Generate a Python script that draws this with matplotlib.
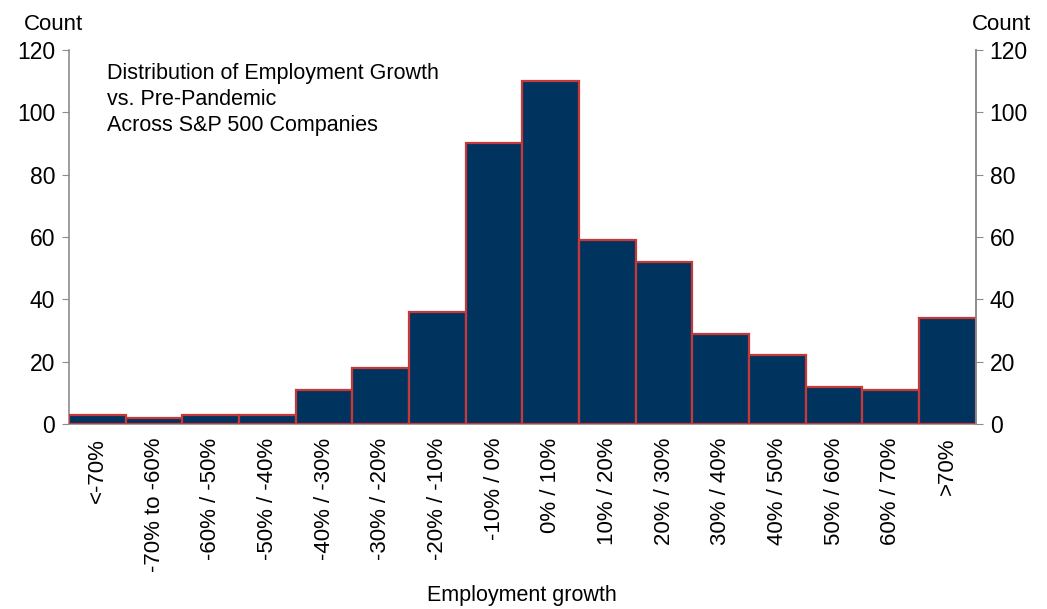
import matplotlib.pyplot as plt
import numpy as np

plt.rcParams['font.family'] = ['Liberation Sans', 'DejaVu Sans']

# ---- data ----
categories = ["<-70%", "-70% to -60%", "-60% / -50%", "-50% / -40%", "-40% / -30%",
              "-30% / -20%", "-20% / -10%", "-10% / 0%", "0% / 10%", "10% / 20%",
              "20% / 30%", "30% / 40%", "40% / 50%", "50% / 60%", "60% / 70%", ">70%"]
counts = [3, 2, 3, 3, 11, 18, 36, 90, 110, 59, 52, 29, 22, 12, 11, 34]
yticks = [0, 20, 40, 60, 80, 100, 120]

NAVY = "#00345E"
RED = "#C8383A"
GREY = "#8C8C8C"
FS_Y = 16.5
FS_X = 16
FS = 15.5

fig = plt.figure(figsize=(10.47, 6.09), dpi=100)
ax = fig.add_axes([0.0659, 0.3038, 0.8661, 0.6142])

x = np.arange(len(categories))
ax.bar(x, counts, width=1.0, color=NAVY, edgecolor=RED, linewidth=1.6, zorder=3)

ax.set_xlim(-0.5, len(categories) - 0.5)
ax.set_ylim(0, 120)
ax.set_yticks(yticks)
ax.set_xticks(x)
ax.set_xticklabels(categories, rotation=90, fontsize=FS_X, va='top')
ax.tick_params(axis='x', length=0, pad=10)
ax.tick_params(axis='y', direction='out', length=5, color=GREY, labelsize=FS_Y, pad=5)

ax.spines['top'].set_visible(False)
for s in ['left', 'right', 'bottom']:
    ax.spines[s].set_color(GREY)
    ax.spines[s].set_linewidth(1.2)

# right-hand axis mirrors the left
ax2 = ax.twinx()
ax2.set_ylim(0, 120)
ax2.set_yticks(yticks)
ax2.tick_params(axis='y', direction='out', length=5, color=GREY, labelsize=FS_Y, pad=5)
for s in ['top', 'left', 'bottom']:
    ax2.spines[s].set_visible(False)
ax2.spines['right'].set_color(GREY)
ax2.spines['right'].set_linewidth(1.2)

fig.text(24 / 1047, 1 - 24 / 609, "Count", fontsize=FS_X, va='center', ha='left')
fig.text(1031 / 1047, 1 - 24 / 609, "Count", fontsize=FS_X, va='center', ha='right')

ax.text(0.042, 0.965, "Distribution of Employment Growth\nvs. Pre-Pandemic\nAcross S&P 500 Companies",
        transform=ax.transAxes, fontsize=FS, va='top', ha='left', linespacing=1.32)

fig.text(522 / 1047, 1 - 596 / 609, "Employment growth", fontsize=FS, ha='center', va='center')

fig.savefig("out.png", dpi=100)
